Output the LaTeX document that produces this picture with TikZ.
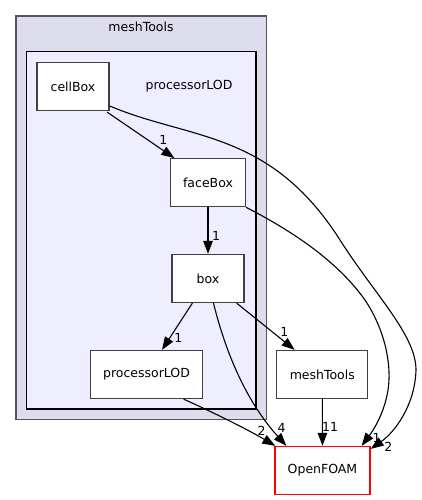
\documentclass[tikz,border=0pt]{standalone}
\usepackage{fontspec}
\setmainfont{DejaVu Sans}
\usetikzlibrary{arrows.meta,calc}
\definecolor{outerfill}{HTML}{DDDDEE}
\definecolor{innerfill}{HTML}{EEEEFF}
\definecolor{outergray}{HTML}{555555}
\definecolor{nodegray}{HTML}{404040}
\definecolor{foamred}{HTML}{FF0000}
\begin{document}
\begin{tikzpicture}[x=1pt,y=-1pt,
  font=\fontsize{12.5}{15}\selectfont,
  cluster/.style={line width=1.3pt, inner sep=0pt},
  dirnode/.style={draw=nodegray, line width=1.3pt, fill=white, minimum height=48pt, inner sep=0pt},
  dep/.style={line width=1.1pt, -{Triangle[length=13pt,width=9.5pt]}},
  lbl/.style={inner sep=0pt}]
\useasboundingbox (0,0) rectangle (422,500);
% clusters
\node[cluster, draw=outergray, fill=outerfill, minimum width=250.5pt, minimum height=403.5pt] (clOuter) at (141.25,217.75) {};
\node[lbl] (clOuterLabel) at (141,27) {meshTools};
\node[cluster, draw=black, fill=innerfill, minimum width=229.3pt, minimum height=357.3pt] (clInner) at (141.35,230.35) {};
\node[lbl] (clInnerLabel) at (189,86) {processorLOD};
% nodes
\node[dirnode, minimum width=72pt] (cellBox) at (73,86.5) {cellBox};
\node[dirnode, minimum width=75pt] (faceBox) at (208,182.7) {faceBox};
\node[dirnode, minimum width=72pt] (box) at (208,278.5) {box};
\node[dirnode, minimum width=112pt] (procLOD) at (146.5,374.5) {processorLOD};
\node[dirnode, minimum width=91pt] (meshTools) at (322.3,374.5) {meshTools};
\node[dirnode, draw=foamred, minimum width=95pt] (OpenFOAM) at (322.5,470.5) {OpenFOAM};
% edges
\draw[dep] ($(cellBox.south east)+(-2.5,1)$) -- ($(faceBox.north west)+(4.5,0)$);
\node[lbl] (l1) at (163.3,140) {1};
\draw[dep] (faceBox.south) -- (box.north);
\node[lbl] (l2) at (216,236) {1};
\draw[dep] ($(box.south west)+(21,0)$) -- ($(procLOD.north)+(15.5,0)$);
\node[lbl] (l3) at (178.3,338.3) {1};
\draw[dep] ($(box.south east)+(-8,0)$) -- ($(meshTools.north west)+(18.5,0)$);
\node[lbl] (l4) at (284.3,331.7) {1};
\draw[dep] ($(box.south)+(5.5,0)$) .. controls (225,350) and (245,400) .. ($(OpenFOAM.north west)+(12,0)$);
\node[lbl] (l5) at (281.7,428.3) {4};
\draw[dep] ($(procLOD.south east)+(-19.5,0)$) .. controls (210,411) and (245,428) .. ($(OpenFOAM.north west)+(1,0)$);
\node[lbl] (l6) at (261.7,431) {2};
\draw[dep] (meshTools.south) -- (OpenFOAM.north);
\node[lbl] (l7) at (330,427.3) {11};
\draw[dep] ($(faceBox.south east)+(0,0)$) .. controls (300,235) and (340,265) .. (365,300)
  .. controls (385,330) and (392,365) .. (388,390)
  .. controls (384,415) and (372,432) .. ($(OpenFOAM.north east)+(-9,0)$);
\node[lbl] (l8) at (376.5,438.3) {1};
\draw[dep] (cellBox.-28) .. controls (190,140) and (270,130) .. (340,240)
  .. controls (375,295) and (416,335) .. (416,370)
  .. controls (415,405) and (395,432) .. ($(OpenFOAM.north east)+(0,3)$);
\node[lbl] (l9) at (388.3,446.7) {2};
\end{tikzpicture}
\end{document}
